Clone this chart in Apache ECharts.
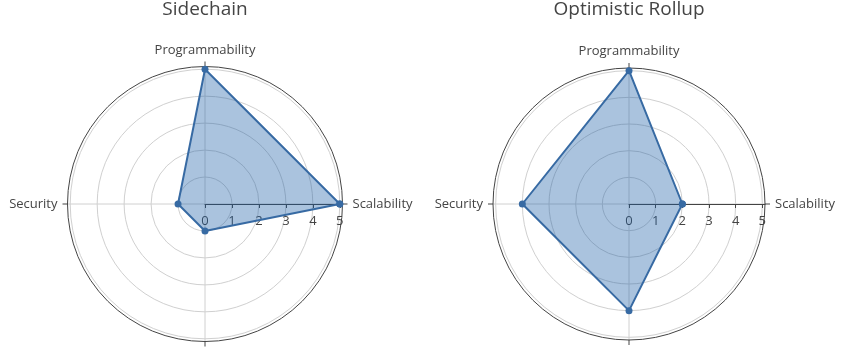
<!DOCTYPE html>
<html>
<head>
<meta charset="utf-8">
<script src="https://cdn.jsdelivr.net/npm/echarts@6/dist/echarts.min.js"></script>
<style>
  html, body { margin: 0; padding: 0; background: #fff; }
  #chart { width: 846px; height: 350px; }
</style>
</head>
<body>
<div id="chart"></div>
<script>
// Axis categories, in counter-clockwise order starting from the right
const categories = ['Scalability', 'Programmability', 'Security', 'Decentralization'];
const categoryAngles = [0, 90, 180, 270];

// Ratings per solution (same order as categories)
const sidechainValues = [5, 5, 1, 1];
const rollupValues = [2, 5, 4, 4];

const panelTitles = ['Sidechain', 'Optimistic Rollup'];
const radialTicks = [0, 1, 2, 3, 4, 5];

const TEXT = '#444';
const GRID = '#d0d0d0';
const LINE = '#376aa3';
const FILL = 'rgba(28,94,166,0.53)';
const FONT = '"Open Sans", "DejaVu Sans", Arial, sans-serif';

// Close each polygon by repeating the first category at 360 degrees
function closedPoints(values) {
  const pts = values.map((v, i) => [v, categoryAngles[i]]);
  pts.push([values[0], 360]);
  return pts;
}

const panels = [
  { center: [205, 204], radius: 137.5, values: sidechainValues, title: panelTitles[0] },
  { center: [629, 204], radius: 136, values: rollupValues, title: panelTitles[1] }
];

const option = {
  backgroundColor: '#fff',
  animation: false,
  polar: panels.map(p => ({ center: p.center, radius: p.radius })),
  angleAxis: panels.map((p, i) => ({
    polarIndex: i,
    type: 'value',
    min: 0,
    max: 360,
    interval: 90,
    startAngle: 0,
    clockwise: false,
    axisLine: { show: true, lineStyle: { color: TEXT, width: 1 } },
    axisTick: { show: true, length: 5, lineStyle: { color: TEXT } },
    splitLine: { show: true, lineStyle: { color: GRID, width: 1 } },
    axisLabel: {
      show: true,
      margin: 10,
      color: TEXT,
      fontSize: 13,
      fontFamily: FONT,
      formatter: v => {
        const k = categoryAngles.indexOf(v);
        return k >= 0 ? categories[k] : '';
      }
    }
  })),
  radiusAxis: panels.map((p, i) => ({
    polarIndex: i,
    type: 'value',
    min: 0,
    max: 5.1,
    interval: 1,
    axisLine: { show: true, lineStyle: { color: TEXT, width: 1 } },
    // ticks and labels hang below the horizontal radial axis
    axisTick: { show: true, length: -4, lineStyle: { color: TEXT }, customValues: radialTicks },
    axisLabel: {
      show: true,
      margin: -24,
      color: TEXT,
      fontSize: 13,
      fontFamily: FONT,
      customValues: radialTicks
    },
    splitLine: { show: true, lineStyle: { color: GRID, width: 1 } }
  })),
  graphic: panels.map(p => ({
    type: 'text',
    x: p.center[0],
    y: 10,
    style: {
      text: p.title,
      fill: TEXT,
      font: '19px ' + FONT,
      align: 'center',
      verticalAlign: 'middle'
    }
  })),
  series: panels.map((p, i) => ({
    type: 'line',
    coordinateSystem: 'polar',
    polarIndex: i,
    data: closedPoints(p.values),
    symbol: 'circle',
    symbolSize: 7,
    lineStyle: { color: LINE, width: 2 },
    itemStyle: { color: LINE },
    areaStyle: { color: FILL, origin: 'start' },
    z: 2
  }))
};

const chart = echarts.init(document.getElementById('chart'), null, { renderer: 'canvas' });
chart.setOption(option);
</script>
</body>
</html>
